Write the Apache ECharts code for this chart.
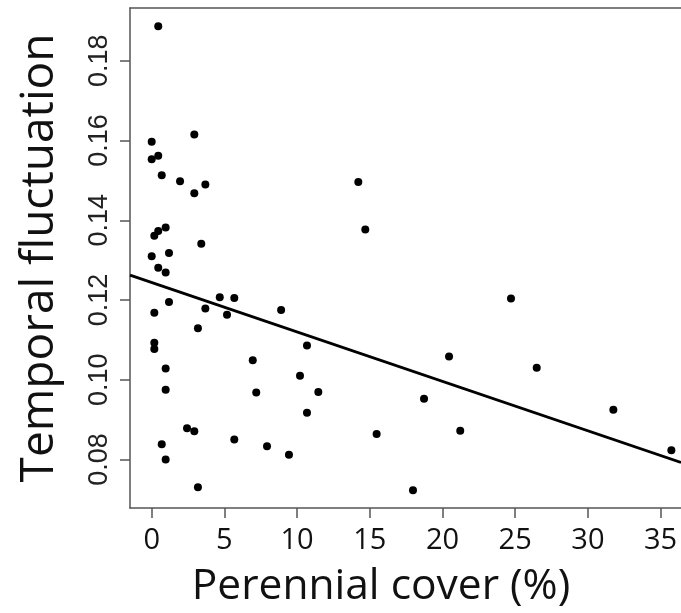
<!DOCTYPE html>
<html>
<head>
<meta charset="utf-8">
<script src="https://cdn.jsdelivr.net/npm/echarts@6/dist/echarts.min.js"></script>
<style>html,body{margin:0;padding:0;background:#fff}#c{width:681px;height:613px}</style>
</head>
<body>
<div id="c"></div>
<script>
// Perennial cover (%)
const coverX = [0.45,2.93,0.0,0.45,0.0,0.69,1.95,3.69,2.93,0.96,0.45,0.18,3.41,0.0,1.19,0.45,0.96,1.19,4.68,5.68,3.69,0.18,5.18,8.9,3.18,0.18,0.18,6.95,0.96,0.96,7.19,2.43,2.93,0.69,5.68,7.93,0.96,3.18,10.68,10.2,11.46,10.68,9.44,14.21,14.69,24.71,20.45,26.48,18.73,31.75,15.47,21.22,35.74,17.97];
// Temporal fluctuation
const fluctY = [0.1887,0.1615,0.1597,0.1562,0.1553,0.1513,0.1498,0.149,0.1468,0.1382,0.1373,0.1361,0.1341,0.131,0.1318,0.1281,0.1269,0.1195,0.1207,0.1205,0.1179,0.1168,0.1163,0.1175,0.1129,0.1093,0.1077,0.1049,0.1028,0.0975,0.0968,0.0878,0.0871,0.0838,0.085,0.0833,0.08,0.073,0.1086,0.101,0.0969,0.0917,0.0812,0.1496,0.1377,0.1204,0.1058,0.103,0.0952,0.0925,0.0864,0.0872,0.0823,0.0723];
// Fitted regression line endpoints
const fitX = [-1.4924, 36.403];
const fitY = [0.12625, 0.07925];
const xTicks = [0,5,10,15,20,25,30,35];
const yTicks = [0.08,0.10,0.12,0.14,0.16,0.18];

const pts = coverX.map((x,i)=>[x, fluctY[i]]);
const fit = fitX.map((x,i)=>[x, fitY[i]]);

const chart = echarts.init(document.getElementById('c'), null, {renderer:'canvas'});
const axisCol = '#555';
chart.setOption({
  animation: false,
  backgroundColor: '#fff',
  grid: {left:130, top:8, right:0, bottom:103, containLabel:false},
  xAxis: [{
    type:'value', min:-1.4924, max:36.403,
    splitLine:{show:false},
    axisLine:{show:true, onZero:false, lineStyle:{color:axisCol, width:1.5}},
    axisTick:{show:true, inside:false, length:10, customValues:xTicks, lineStyle:{color:axisCol, width:1.5}},
    axisLabel:{show:true, customValues:xTicks, margin:18, fontSize:29, fontFamily:'Open Sans', color:'#111'},
    name:'Perennial cover (%)', nameLocation:'middle', nameGap:57,
    nameTextStyle:{fontSize:42.5, fontFamily:'Open Sans', color:'#111', padding:[0,49,0,0]}
  },{
    type:'value', position:'top', min:-1.4924, max:36.403,
    splitLine:{show:false}, axisTick:{show:false}, axisLabel:{show:false},
    axisLine:{show:true, onZero:false, lineStyle:{color:axisCol, width:1.5}}
  }],
  yAxis: [{
    type:'value', min:0.067825, max:0.19325,
    splitLine:{show:false},
    axisLine:{show:true, onZero:false, lineStyle:{color:axisCol, width:1.5}},
    axisTick:{show:true, inside:false, length:10, customValues:yTicks, lineStyle:{color:axisCol, width:1.5}},
    axisLabel:{show:true, customValues:yTicks, rotate:90, margin:17, fontSize:27, fontFamily:'Liberation Sans', color:'#222',
      formatter: v => v.toFixed(2)},
    name:'Temporal fluctuation', nameLocation:'middle', nameGap:67,
    nameTextStyle:{fontSize:46, fontFamily:'Open Sans', color:'#111'}
  }],
  series: [{
    type:'scatter', data: pts, symbol:'circle', symbolSize:8,
    itemStyle:{color:'#000', opacity:1}, silent:true
  },{
    type:'line', data: fit, symbol:'none', lineStyle:{color:'#000', width:2.8}, silent:true
  }]
});
</script>
</body>
</html>
